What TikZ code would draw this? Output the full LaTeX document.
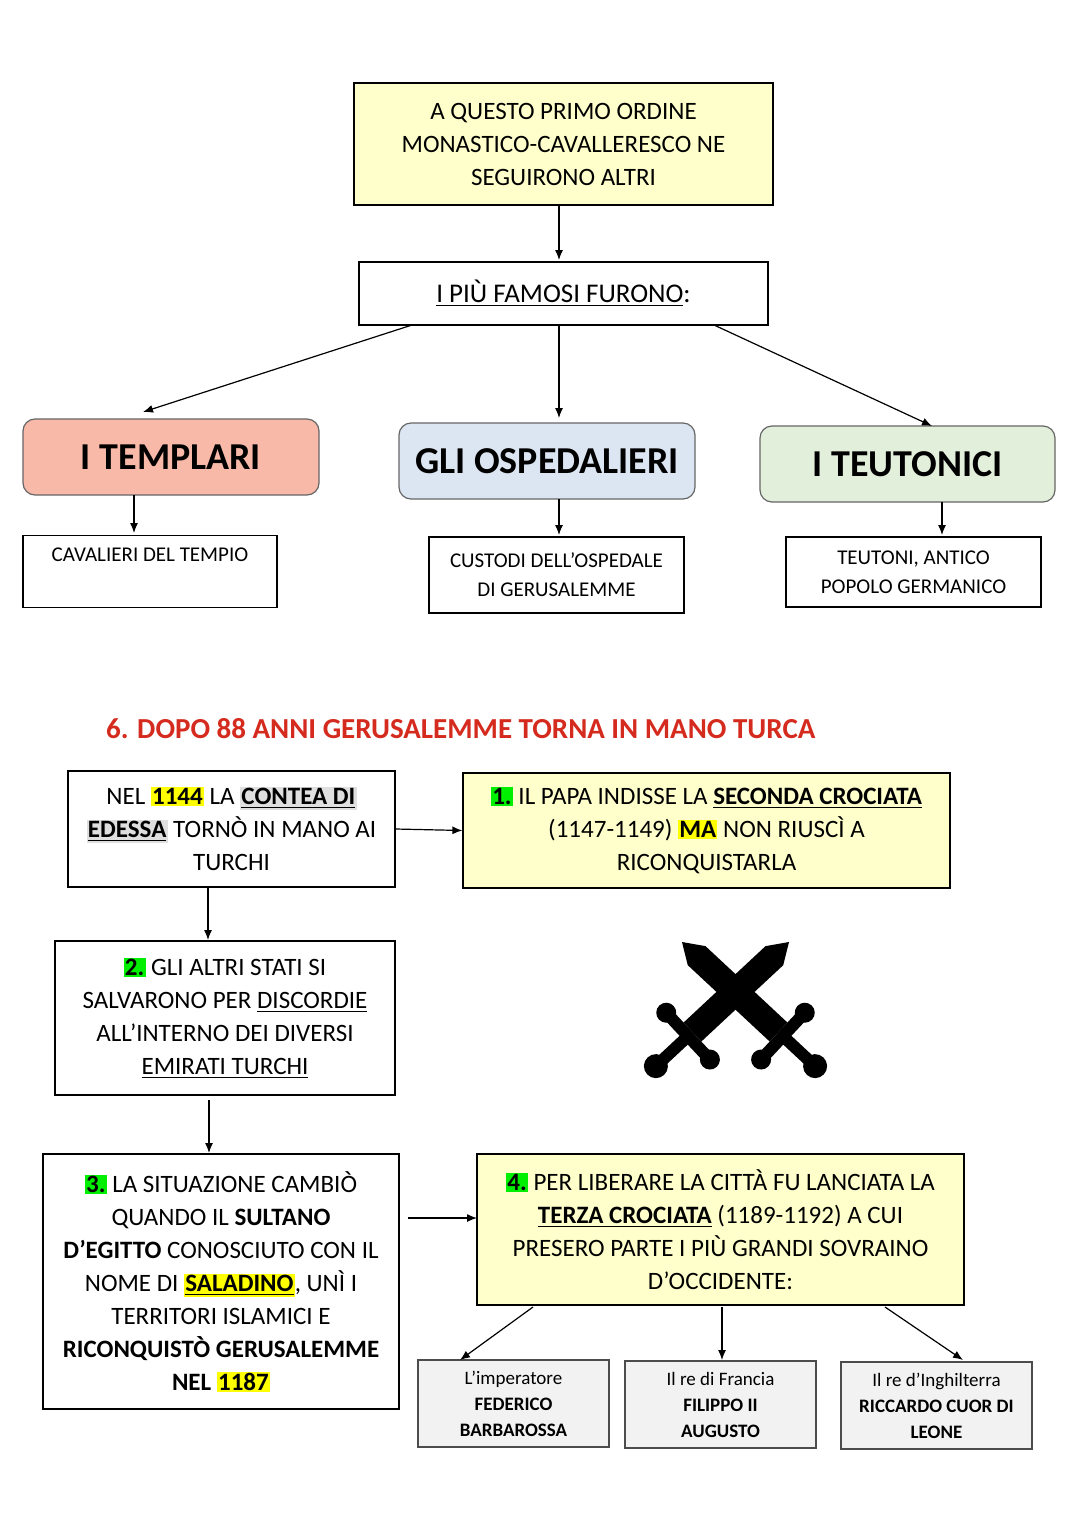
\documentclass[tikz,border=0pt]{standalone}
\usepackage{fontspec}
\setmainfont{Carlito}
\usetikzlibrary{arrows.meta}
\definecolor{ly}{HTML}{FFFFCC}
\definecolor{tred}{HTML}{F8B9A9}
\definecolor{oblue}{HTML}{DCE6F2}
\definecolor{tgreen}{HTML}{E2EFDA}
\definecolor{hl}{HTML}{FFFF00}
\definecolor{hg}{HTML}{00EE00}
\definecolor{gbox}{HTML}{F2F2F2}
\definecolor{titred}{HTML}{D52B1E}
\newcommand{\hY}[1]{{\setlength{\fboxsep}{0.6pt}\colorbox{hl}{#1}}}
\newcommand{\hG}[1]{{\setlength{\fboxsep}{0.6pt}\colorbox{hg}{#1}}}
\newcommand{\hGr}[1]{{\setlength{\fboxsep}{0.6pt}\colorbox{gray!25}{#1}}}
\tikzset{
 bx/.style={draw, line width=0.6pt, inner sep=0pt, align=center, font=\fontsize{12.5pt}{16.5pt}\selectfont},
 big/.style={draw=black!60, rounded corners=6pt, line width=0.6pt, align=center, font=\fontsize{19pt}{22pt}\selectfont\bfseries},
 sm/.style={draw, line width=0.6pt, align=center, font=\fontsize{10.5pt}{14.5pt}\selectfont},
 gb/.style={draw=black!70, fill=gbox, line width=0.6pt, align=center, font=\fontsize{9.5pt}{13pt}\selectfont},
 ar/.style={-{Latex[length=5pt,width=4pt]}, line width=0.6pt},
}
\begin{document}
\begin{tikzpicture}[x=0.5pt,y=-0.5pt]
\fill[white] (0,0) rectangle (1080,1527);
\useasboundingbox (0,0) rectangle (1080,1527);
\node[bx, fill=ly, minimum width=209.5pt, minimum height=61pt] (a) at (563.5,144) {A QUESTO PRIMO ORDINE\\MONASTICO-CAVALLERESCO NE\\SEGUIRONO ALTRI};
\node[bx, minimum width=204.5pt, minimum height=31.5pt, font=\fontsize{13.5pt}{16pt}\selectfont] (b) at (563.5,293.5) {\underline{I PIÙ FAMOSI FURONO}:};
\node[big, fill=tred, minimum width=148pt, minimum height=38pt] (t) at (171,457) {I TEMPLARI};
\node[big, fill=oblue, minimum width=148pt, minimum height=38pt] (o) at (547,461) {GLI OSPEDALIERI};
\node[big, fill=tgreen, minimum width=147.5pt, minimum height=38pt] (u) at (907.5,464) {I TEUTONICI};
\node[sm, minimum width=127pt, minimum height=36pt, anchor=north, inner sep=0pt] (t1) at (150,535) {};
\node[sm, draw=none, anchor=north] at (150,541) {CAVALIERI DEL TEMPIO};
\node[sm, minimum width=127.5pt, minimum height=38pt, inner sep=0pt] (o1) at (556.5,575) {CUSTODI DELL’OSPEDALE\\DI GERUSALEMME};
\node[sm, minimum width=127.5pt, minimum height=35pt, inner sep=0pt] (u1) at (913.5,572) {TEUTONI, ANTICO\\POPOLO GERMANICO};
\draw[ar] (412,325) -- (143,412);
\draw[ar] (559,325) -- (559,418);
\draw[ar] (714,325) -- (932,426);
\draw[ar] (559,205) -- (559,260);
\draw[ar] (134,495) -- (134,533);
\draw[ar] (559,499) -- (559,535);
\draw[ar] (942,502) -- (942,535);

\node[anchor=west, text=titred, font=\fontsize{14.5pt}{17pt}\selectfont\bfseries] (title) at (99,729) {6. DOPO 88 ANNI GERUSALEMME TORNA IN MANO TURCA};

\node[bx, minimum width=163.5pt, minimum height=58pt] (A) at (231.5,829) {NEL \hY{\textbf{1144}} LA \hGr{\textbf{\underline{CONTEA DI}}}\\\hGr{\textbf{\underline{EDESSA}}} TORNÒ IN MANO AI\\TURCHI};
\node[bx, fill=ly, minimum width=243.5pt, minimum height=57.5pt] (B) at (706.5,830.5) {\hG{\textbf{1.}} IL PAPA INDISSE LA \textbf{\underline{SECONDA CROCIATA}}\\(1147-1149) \hY{\textbf{MA}} NON RIUSCÌ A\\RICONQUISTARLA};
\node[bx, minimum width=170pt, minimum height=77pt] (C) at (225,1018) {\hG{\textbf{2.}} GLI ALTRI STATI SI\\SALVARONO PER \underline{DISCORDIE}\\ALL’INTERNO DEI DIVERSI\\\underline{EMIRATI TURCHI}};
\node[bx, minimum width=178pt, minimum height=127.5pt] (D) at (221,1281.5) {\hG{\textbf{3.}} LA SITUAZIONE CAMBIÒ\\QUANDO IL \textbf{SULTANO}\\\textbf{D’EGITTO} CONOSCIUTO CON IL\\NOME DI \hY{\textbf{\underline{SALADINO}}}, UNÌ I\\TERRITORI ISLAMICI E\\\textbf{RICONQUISTÒ GERUSALEMME}\\\textbf{NEL} \hY{\textbf{1187}}};
\node[bx, fill=ly, minimum width=243.5pt, minimum height=75.5pt] (E) at (720.5,1229.5) {\hG{\textbf{4.}} PER LIBERARE LA CITTÀ FU LANCIATA LA\\\textbf{\underline{TERZA CROCIATA}} (1189-1192) A CUI\\PRESERO PARTE I PIÙ GRANDI SOVRAINO\\D’OCCIDENTE:};
\node[gb, minimum width=95.5pt, minimum height=43.5pt, inner sep=0pt] (F1) at (513.5,1403.5) {L’imperatore\\\textbf{FEDERICO}\\\textbf{BARBAROSSA}};
\node[gb, minimum width=95.5pt, minimum height=43.5pt, inner sep=0pt] (F2) at (720.5,1404.5) {Il re di Francia\\\textbf{FILIPPO II}\\\textbf{AUGUSTO}};
\node[gb, minimum width=95.5pt, minimum height=43.5pt, inner sep=0pt] (F3) at (936.5,1405.5) {Il re d’Inghilterra\\\textbf{RICCARDO CUOR DI}\\\textbf{LEONE}};
\draw[ar] (A.east) -- (B.west);
\draw[ar] (208,887) -- (208,940);
\draw[ar] (209,1100) -- (209,1153);
\draw[ar] (408,1218) -- (477,1218);
\draw[ar] (533,1307) -- (460,1360);
\draw[ar] (722,1307) -- (722,1360);
\draw[ar] (885,1307) -- (963,1360);

% crossed swords
\foreach \sx/\sy/\ang in {682/942/-43, 789/942/-137}{
 \begin{scope}[shift={(\sx,\sy)}, rotate=\ang]
  \fill[black] (0,0) -- (20,-13) -- (132,-13) -- (132,13) -- (20,13) -- cycle;
  \draw[black, line width=6pt] (138,-30) -- (138,30);
  \fill[black] (138,-32) circle (10);
  \fill[black] (138,32) circle (10);
  \draw[black, line width=6pt] (140,0) -- (175,0);
  \fill[black] (182,0) circle (12);
 \end{scope}
}
\end{tikzpicture}
\end{document}
